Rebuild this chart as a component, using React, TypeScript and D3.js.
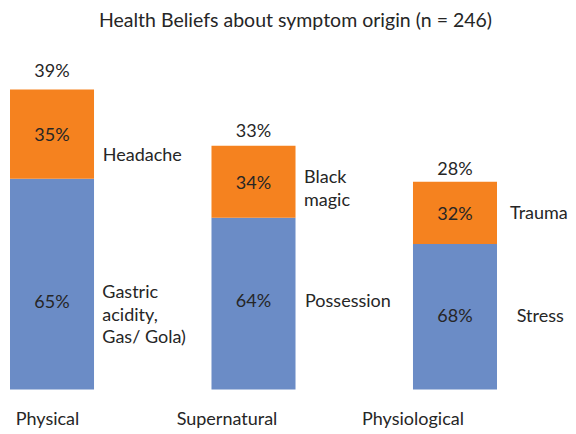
import * as d3 from "d3";
import { useEffect, useRef } from "react";

const categories = ["Physical", "Supernatural", "Physiological"];
// segment heights (percentage points of respondents)
const blueValues = [28.1, 22.9, 19.4];
const orangeValues = [11.9, 9.6, 8.3];
const totalLabels = ["39%", "33%", "28%"];
const orangeLabels = ["35%", "34%", "32%"];
const blueLabels = ["65%", "64%", "68%"];
const orangeNotes = [["Headache"], ["Black", "magic"], ["Trauma"]];
const blueNotes = [["Gastric", "acidity,", "Gas/ Gola)"], ["Possession"], ["Stress"]];

const W = 576;
const H = 434;
const FONT = "Lato, 'Open Sans', sans-serif";
const TEXT = "#262626";
const BLUE = "#6b8cc6";
const ORANGE = "#f5821f";

export default function App() {
  const ref = useRef<SVGSVGElement | null>(null);

  useEffect(() => {
    const svg = d3.select(ref.current);
    svg.selectAll("*").remove();

    const rows = categories.map((c, i) => ({
      name: c,
      blue: blueValues[i],
      orange: orangeValues[i],
      i,
    }));

    const x = d3
      .scaleBand<string>()
      .domain(categories)
      .range([10, 497])
      .paddingInner(0.583)
      .paddingOuter(0);
    const y = d3.scaleLinear().domain([0, 40]).range([389.5, 89.5]);

    const stack = d3.stack<any>().keys(["blue", "orange"]);
    const series = stack(rows);
    const colors: Record<string, string> = { blue: BLUE, orange: ORANGE };

    // bars
    svg
      .append("g")
      .selectAll("g")
      .data(series)
      .join("g")
      .attr("fill", (s) => colors[s.key])
      .selectAll("rect")
      .data((s) => s)
      .join("rect")
      .attr("x", (d) => x(d.data.name)!)
      .attr("width", x.bandwidth())
      .attr("y", (d) => y(d[1]))
      .attr("height", (d) => y(d[0]) - y(d[1]));

    const txt = svg
      .append("g")
      .attr("font-family", FONT)
      .attr("font-size", 18)
      .attr("fill", TEXT);

    // title
    txt
      .append("text")
      .attr("x", 295.5)
      .attr("y", 27)
      .attr("text-anchor", "middle")
      .attr("font-size", 19.5)
      .text("Health Beliefs about symptom origin (n = 246)");

    const cx = (d: any) => x(d.name)! + x.bandwidth() / 2;
    const right = (d: any) => x(d.name)! + x.bandwidth();
    const topGap = [13, 8.5, 6.5];
    const blueDy = [23.5, 3, 5.5];
    const catDx = [-4.5, -26.5, -42];

    // totals above bars
    txt
      .selectAll(".total")
      .data(rows)
      .join("text")
      .attr("x", cx)
      .attr("y", (d) => y(d.blue + d.orange) - topGap[d.i])
      .attr("text-anchor", "middle")
      .text((d) => totalLabels[d.i]);

    // inside labels
    txt
      .selectAll(".orange")
      .data(rows)
      .join("text")
      .attr("x", cx)
      .attr("y", (d) => (y(d.blue) + y(d.blue + d.orange)) / 2 + 7)
      .attr("text-anchor", "middle")
      .text((d) => orangeLabels[d.i]);

    txt
      .selectAll(".blue")
      .data(rows)
      .join("text")
      .attr("x", cx)
      .attr("y", (d) => (y(0) + y(d.blue)) / 2 + blueDy[d.i])
      .attr("text-anchor", "middle")
      .text((d) => blueLabels[d.i]);

    // side notes
    const lineH = 22.8;
    const orangeNoteDx = [8.7, 8.5, 13];
    const orangeNoteDy = [27.2, 1.6, 6];
    const blueNoteDx = [8.3, 9.5, 19.7];
    const blueNoteDy = [13.7, 3.1, 5.3];

    rows.forEach((d) => {
      const om = (y(d.blue) + y(d.blue + d.orange)) / 2;
      const bm = (y(0) + y(d.blue)) / 2;
      orangeNotes[d.i].forEach((line, k) => {
        txt
          .append("text")
          .attr("x", right(d) + orangeNoteDx[d.i])
          .attr("y", om + orangeNoteDy[d.i] + k * lineH)
          .text(line);
      });
      blueNotes[d.i].forEach((line, k) => {
        txt
          .append("text")
          .attr("x", right(d) + blueNoteDx[d.i])
          .attr("y", bm + blueNoteDy[d.i] + k * lineH)
          .text(line);
      });
    });

    // category labels
    txt
      .selectAll(".cat")
      .data(rows)
      .join("text")
      .attr("x", (d) => cx(d) + catDx[d.i])
      .attr("y", 425)
      .attr("text-anchor", "middle")
      .text((d) => d.name);
  }, []);

  return (
    <svg
      ref={ref}
      width={W}
      height={H}
      style={{ position: "absolute", left: 0, top: 0, background: "#fff" }}
    />
  );
}
